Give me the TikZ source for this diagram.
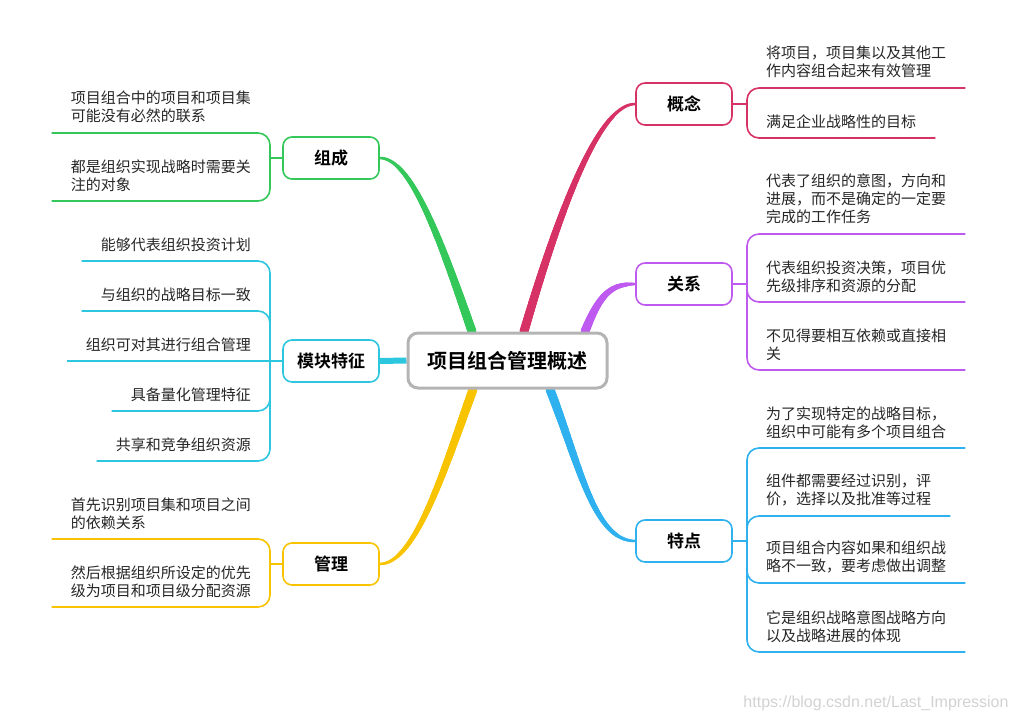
\documentclass[tikz,border=0pt]{standalone}
\usepackage{fontspec}
\setmainfont{Noto Sans CJK SC}[BoldFont={Noto Sans CJK SC Bold}]
\newfontfamily\urlfont{Liberation Sans}
\usetikzlibrary{decorations.markings,backgrounds}
\definecolor{cgn}{HTML}{D63266}
\definecolor{cgx}{HTML}{BE5AF0}
\definecolor{ctd}{HTML}{2EB1EE}
\definecolor{czc}{HTML}{34C759}
\definecolor{cmk}{HTML}{2CC6DF}
\definecolor{cgl}{HTML}{F8C300}
\definecolor{rootgray}{HTML}{B4B4B4}
\definecolor{leafgray}{HTML}{262626}
\definecolor{wmgray}{HTML}{D2D2D2}
\tikzset{
  branch/.style={draw=#1, line width=2pt, decoration={markings,
      mark=between positions 0 and 1 step 0.7pt with {%
        \pgfmathsetmacro\brs{max(1-\pgfkeysvalueof{/pgf/decoration/mark info/distance from start}/\pgfdecoratedpathlength,0.001)}%
        \pgfmathsetmacro\brw{1.1+3.4*\brs^0.6}%
        \fill[#1] (0,0) circle (\brw pt);}},
    postaction={decorate}}
}
\begin{document}
\begin{tikzpicture}[x=1pt,y=-1pt,
  centerbox/.style={draw=rootgray, line width=3pt, fill=white, rounded corners=10pt, minimum width=199pt, minimum height=55pt, font=\fontsize{20}{24}\selectfont\bfseries},
  topicbox/.style={draw=#1, line width=1.6pt, fill=white, rounded corners=9pt, minimum width=96pt, minimum height=42pt, font=\fontsize{17}{20}\selectfont\bfseries},
  leafnote/.style={inner xsep=19pt, inner ysep=9.5pt, align=left, text=leafgray, font=\fontsize{15}{18}\selectfont},
  rleaf/.style={leafnote, anchor=south west},
  lleaf/.style={leafnote, anchor=south east},
  fork/.style={draw=#1, line width=1.6pt, rounded corners=12pt}]
  \useasboundingbox (0,0) rectangle (1015,722);

  \node [centerbox] (root) at (507.5,360.5) {项目组合管理概述};

  \node [topicbox=cgn] (gn) at (684,104) {概念};
  \node [topicbox=cgx] (gx) at (684,284) {关系};
  \node [topicbox=ctd] (td) at (684,541) {特点};
  \node [topicbox=czc] (zc) at (331,158) {组成};
  \node [topicbox=cmk] (mk) at (331,361) {模块特征};
  \node [topicbox=cgl] (gl) at (331,564) {管理};

  \coordinate (gnb) at (747,104);
  \coordinate (gxb) at (747,284);
  \coordinate (tdb) at (747,541);
  \coordinate (zcb) at (270,158);
  \coordinate (mkb) at (270,361);
  \coordinate (glb) at (270,564);

  \node [rleaf] (gn1) at (747,88) {将项目，项目集以及其他工\\作内容组合起来有效管理};
  \node [rleaf] (gn2) at (747,138) {满足企业战略性的目标};

  \node [rleaf] (gx1) at (747,234) {代表了组织的意图，方向和\\进展，而不是确定的一定要\\完成的工作任务};
  \node [rleaf] (gx2) at (747,302) {代表组织投资决策，项目优\\先级排序和资源的分配};
  \node [rleaf] (gx3) at (747,370) {不见得要相互依赖或直接相\\关};

  \node [rleaf] (td1) at (747,448) {为了实现特定的战略目标，\\组织中可能有多个项目组合};
  \node [rleaf] (td2) at (747,516) {组件都需要经过识别，评\\价，选择以及批准等过程};
  \node [rleaf] (td3) at (747,583) {项目组合内容如果和组织战\\略不一致，要考虑做出调整};
  \node [rleaf] (td4) at (747,652) {它是组织战略意图战略方向\\以及战略进展的体现};

  \node [lleaf] (zc1) at (270,133) {项目组合中的项目和项目集\\可能没有必然的联系};
  \node [lleaf] (zc2) at (270,201) {都是组织实现战略时需要关\\注的对象};

  \node [lleaf] (mk1) at (270,261) {能够代表组织投资计划};
  \node [lleaf] (mk2) at (270,311) {与组织的战略目标一致};
  \node [lleaf] (mk3) at (270,361) {组织可对其进行组合管理};
  \node [lleaf] (mk4) at (270,411) {具备量化管理特征};
  \node [lleaf] (mk5) at (270,461) {共享和竞争组织资源};

  \node [lleaf] (gl1) at (270,539) {首先识别项目集和项目之间\\的依赖关系};
  \node [lleaf] (gl2) at (270,607) {然后根据组织所设定的优先\\级为项目和项目级分配资源};

  \node [text=wmgray, font=\urlfont\fontsize{16}{18}\selectfont] (wm) at (876,703) {https://blog.csdn.net/Last\_Impression};

  \begin{scope}[on background layer]
    \path [branch=cgn] ([xshift=16.5pt]root.north) .. controls +(36,-123) and +(-36,0) .. (gn.west);
    \path [branch=cgx] ([xshift=77.5pt]root.north) .. controls +(15,-38) and +(-24,0) .. (gx.west);
    \path [branch=ctd] ([xshift=42.5pt]root.south) .. controls +(30,77) and +(-41,0) .. (td.west);
    \path [branch=czc] ([xshift=-35.5pt]root.north) .. controls +(-32,-93) and +(31,0) .. (zc.east);
    \path [branch=cgl] ([xshift=-34.5pt]root.south) .. controls +(-28,77) and +(36,0) .. (gl.east);
    \draw [cmk, line width=6pt] (root.west) -- (mk.east);
  \end{scope}

  \draw [fork=cgn] (gn.east) -- (gnb);
  \draw [fork=cgn] (gnb) |- (gn1.south east);
  \draw [fork=cgn] (gnb) |- (gn2.south east);

  \draw [fork=cgx] (gx.east) -- (gxb);
  \draw [fork=cgx] (gxb) |- (gx1.south east);
  \draw [fork=cgx] (gxb) |- (gx2.south east);
  \draw [fork=cgx] (gxb) |- (gx3.south east);

  \draw [fork=ctd] (td.east) -- (tdb);
  \draw [fork=ctd] (tdb) |- (td1.south east);
  \draw [fork=ctd] (tdb) |- (td2.south east);
  \draw [fork=ctd] (tdb) |- (td3.south east);
  \draw [fork=ctd] (tdb) |- (td4.south east);

  \draw [fork=czc] (zc.west) -- (zcb);
  \draw [fork=czc] (zcb) |- (zc1.south west);
  \draw [fork=czc] (zcb) |- (zc2.south west);

  \draw [fork=cmk] (mk.west) -- (mkb);
  \draw [fork=cmk] (mkb) |- (mk1.south west);
  \draw [fork=cmk] (mkb) |- (mk2.south west);
  \draw [fork=cmk] (mkb) -- (mk3.south west);
  \draw [fork=cmk] (mkb) |- (mk4.south west);
  \draw [fork=cmk] (mkb) |- (mk5.south west);

  \draw [fork=cgl] (gl.west) -- (glb);
  \draw [fork=cgl] (glb) |- (gl1.south west);
  \draw [fork=cgl] (glb) |- (gl2.south west);
\end{tikzpicture}
\end{document}
